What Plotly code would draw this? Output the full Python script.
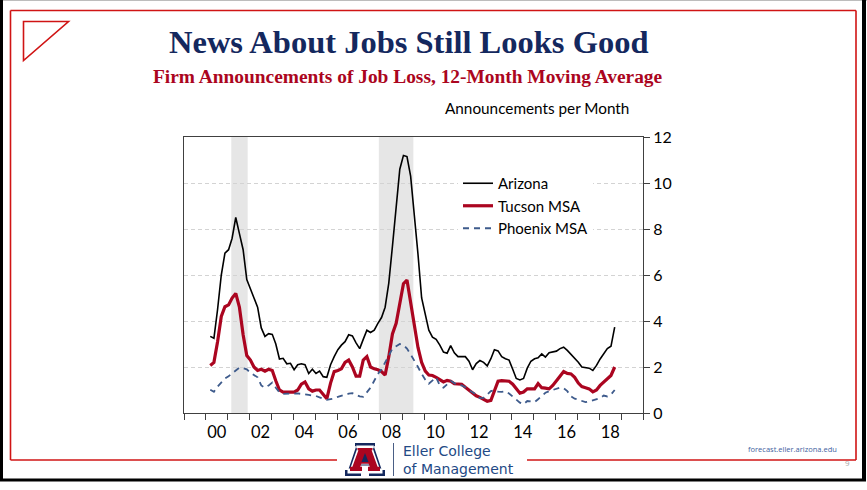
import pandas as pd
import plotly.graph_objects as go

# Bi-monthly observations, mid-month, March 2000 through September 2018
dates = pd.date_range("2000-03-01", periods=112, freq="2MS") + pd.Timedelta(days=14)

arizona = [
    3.33, 3.25, 4.5, 6.0, 6.95,
    7.1, 7.6, 8.5, 7.8, 7.1, 5.8,
    5.4, 5.04, 4.6, 3.7, 3.33, 3.45,
    3.42, 3.0, 2.35, 2.38, 2.14, 2.16,
    1.88, 2.1, 2.14, 2.1, 1.72, 1.9,
    1.72, 1.82, 1.58, 1.55, 2.1, 2.45,
    2.75, 2.95, 3.1, 3.4, 3.35, 3.05,
    2.8, 3.2, 3.6, 3.5, 3.6, 3.9,
    4.15, 4.6, 5.65, 7.25, 9.0, 10.6,
    11.2, 11.15, 10.3, 8.7, 6.9, 5.0,
    4.25, 3.6, 3.3, 3.2, 2.95, 2.65,
    2.6, 2.93, 2.62, 2.45, 2.45, 2.45,
    2.25, 1.88, 2.15, 2.28, 2.2, 2.05,
    2.36, 2.75, 2.7, 2.45, 2.36, 2.3,
    1.9, 1.5, 1.44, 1.5, 1.95, 2.25,
    2.36, 2.4, 2.57, 2.43, 2.62, 2.66,
    2.69, 2.8, 2.86, 2.72, 2.55, 2.35,
    2.21, 2.0, 1.99, 1.95, 1.85, 2.07,
    2.35, 2.6, 2.8, 2.9, 3.73,
]

tucson = [
    2.07, 2.2, 3.1, 4.2, 4.62,
    4.7, 5.0, 5.2, 4.6, 3.4, 2.5,
    2.3, 2.0, 1.85, 1.9, 1.82, 1.9,
    1.85, 1.4, 1.0, 0.91, 0.91, 0.91,
    0.91, 1.0, 1.25, 1.35, 1.05, 0.95,
    1.0, 1.0, 0.8, 0.62, 1.3, 1.8,
    1.85, 1.92, 2.2, 2.3, 2.0, 1.6,
    1.6, 2.3, 2.45, 2.0, 1.92, 1.88,
    1.8, 1.65, 2.45, 3.44, 3.9, 4.85,
    5.62, 5.78, 4.8, 3.7, 2.85, 2.2,
    1.82, 1.65, 1.63, 1.55, 1.45, 1.35,
    1.42, 1.38, 1.27, 1.27, 1.25, 1.12,
    1.0, 0.85, 0.75, 0.68, 0.58, 0.51,
    0.55, 0.95, 1.38, 1.41, 1.41, 1.38,
    1.25, 1.05, 0.86, 0.91, 1.05, 1.05,
    1.05, 1.28, 1.1, 1.08, 1.05, 1.2,
    1.38, 1.6, 1.8, 1.72, 1.7, 1.55,
    1.3, 1.15, 1.1, 1.05, 0.92, 1.0,
    1.2, 1.35, 1.5, 1.63, 2.0,
]

phoenix = [
    1.01, 0.92, 1.15, 1.35, 1.5,
    1.6, 1.73, 1.85, 1.97, 1.95, 1.9,
    1.75, 1.65, 1.55, 1.2, 1.1, 1.2,
    1.32, 1.1, 0.9, 0.83, 0.84, 0.86,
    0.86, 0.85, 0.83, 0.82, 0.79, 0.76,
    0.74, 0.68, 0.63, 0.57, 0.6, 0.63,
    0.7, 0.75, 0.8, 0.84, 0.86, 0.8,
    0.72, 0.7, 0.9, 1.1, 1.4, 1.7,
    1.9, 2.2, 2.55, 2.8, 2.9, 3.0,
    2.95, 2.8, 2.55, 2.3, 2.0, 1.7,
    1.45, 1.27, 1.42, 1.55, 1.2, 1.1,
    1.25, 1.4, 1.3, 1.22, 1.2, 1.12,
    1.0, 0.9, 0.8, 0.65, 0.66, 0.8,
    0.95, 1.0, 0.93, 0.92, 0.95, 0.85,
    0.72, 0.6, 0.45, 0.38, 0.52, 0.5,
    0.47, 0.6, 0.72, 0.88, 0.95, 1.0,
    1.02, 1.1, 1.08, 0.95, 0.72, 0.62,
    0.58, 0.52, 0.47, 0.5, 0.54, 0.6,
    0.65, 0.76, 0.72, 0.8, 1.0,
]

recessions = [("2001-03-01", "2001-11-30"), ("2007-12-01", "2009-06-30")]

year_labels = ["00", "02", "04", "06", "08", "10", "12", "14", "16", "18"]
label_years = [2000, 2002, 2004, 2006, 2008, 2010, 2012, 2014, 2016, 2018]
y_ticks = [0, 2, 4, 6, 8, 10, 12]

W, H = 867, 490
ML, MR, MT, MB = 184, 224, 137, 77
PW, PH = W - ML - MR, H - MT - MB

NAVY = "#14285E"
UA_RED = "#AB0520"
SLIDE_RED = "#D01414"
TEXT_FONT = "Lato"


def px(x):
    return (x - ML) / PW


def py(y):
    return (H - MB - y) / PH


fig = go.Figure()

fig.add_trace(go.Scatter(x=dates, y=arizona, name="Arizona", mode="lines",
                         line=dict(color="#000000", width=1.6)))
fig.add_trace(go.Scatter(x=dates, y=tucson, name="Tucson MSA", mode="lines",
                         line=dict(color=UA_RED, width=3.2)))
fig.add_trace(go.Scatter(x=dates, y=phoenix, name="Phoenix MSA", mode="lines",
                         line=dict(color="#3E5B8C", width=1.8, dash="6px,5px")))

shapes = []
for start, end in recessions:
    shapes.append(dict(type="rect", xref="x", yref="paper", x0=start, x1=end,
                       y0=0, y1=1, fillcolor="#E6E6E6", line=dict(width=0),
                       layer="below"))


def line_px(x0, y0, x1, y1, color, width):
    shapes.append(dict(type="line", xref="paper", yref="paper",
                       x0=px(x0), y0=py(y0), x1=px(x1), y1=py(y1),
                       line=dict(color=color, width=width), layer="above"))


def path_px(points, fill, color=None, width=0):
    d = "M " + " L ".join(f"{px(x):.5f},{py(y):.5f}" for x, y in points) + " Z"
    shapes.append(dict(type="path", xref="paper", yref="paper", path=d,
                       fillcolor=fill, line=dict(color=color or fill, width=width),
                       layer="above"))


# slide frame
line_px(0, 0.5, 867, 0.5, "#BDBDBD", 1)
line_px(1.5, 0, 1.5, 481, "#000000", 3)
line_px(864, 0, 864, 481, "#000000", 4)
line_px(0, 480, 866, 480, "#000000", 3)

# red inner frame, bottom edge broken by the logo block
line_px(10.5, 10.5, 856, 10.5, SLIDE_RED, 1.6)
line_px(10.5, 10.5, 10.5, 460, SLIDE_RED, 1.6)
line_px(856, 10.5, 856, 460, SLIDE_RED, 1.6)
line_px(10.5, 460, 337, 460, SLIDE_RED, 1.6)
line_px(527, 460, 856, 460, SLIDE_RED, 1.6)

# corner triangle
path_px([(23.5, 21.5), (68.5, 21.5), (23.5, 60.5)], "rgba(255,255,255,0)",
        SLIDE_RED, 1.6)

# block "A" logo
A_UNIT = [(0.25, 0), (0.75, 0), (0.75, 0.1), (0.72, 0.1), (0.92, 0.82),
          (1.0, 0.82), (1.0, 1.0), (0.6, 1.0), (0.6, 0.82), (0.66, 0.82),
          (0.62, 0.68), (0.38, 0.68), (0.34, 0.82), (0.4, 0.82), (0.4, 1.0),
          (0.0, 1.0), (0.0, 0.82), (0.08, 0.82), (0.28, 0.1), (0.25, 0.1)]


def block_a(x0, y0, x1, y1, fill):
    path_px([(x0 + u * (x1 - x0), y0 + v * (y1 - y0)) for u, v in A_UNIT], fill)


block_a(345, 443, 385, 476, NAVY)
block_a(347.5, 445.5, 382.5, 473.5, "#FFFFFF")
block_a(350, 448, 380, 471, UA_RED)
path_px([(361.5, 462), (368.5, 462), (365, 453)], NAVY)
line_px(393.5, 443, 393.5, 476, "#4A5E85", 1)

annotations = [
    dict(text="<b>News About Jobs Still Looks Good</b>", x=px(409), y=py(42),
         font=dict(family="Liberation Serif", size=32.5, color=NAVY)),
    dict(text="<b>Firm Announcements of Job Loss, 12-Month Moving Average</b>",
         x=px(407.5), y=py(77),
         font=dict(family="Liberation Serif", size=19.4, color=UA_RED)),
    dict(text="Announcements per Month", x=px(536.5), y=py(108),
         font=dict(family=TEXT_FONT, size=15.3, color="#000000")),
    dict(text="Eller College<br>of Management", x=px(401), y=py(460),
         xanchor="left", align="left",
         font=dict(family="DejaVu Sans", size=14, color="#234985")),
    dict(text="forecast.eller.arizona.edu", x=px(839), y=py(448.5), xanchor="right",
         font=dict(family="Open Sans", size=7.5, color="#3F62A0")),
    dict(text="9", x=px(847), y=py(462.5),
         font=dict(family="Open Sans", size=8, color="#A6A6A6")),
]
for a in annotations:
    a.update(xref="paper", yref="paper", showarrow=False)
    a.setdefault("xanchor", "center")
    a.setdefault("yanchor", "middle")

fig.update_layout(
    width=W, height=H,
    margin=dict(l=ML, r=MR, t=MT, b=MB, pad=0),
    paper_bgcolor="#FFFFFF", plot_bgcolor="#FFFFFF",
    font=dict(family=TEXT_FONT, size=16, color="#000000"),
    showlegend=True,
    legend=dict(x=px(458), y=py(167), xanchor="left", yanchor="top",
                bgcolor="#FFFFFF", borderwidth=0,
                font=dict(family=TEXT_FONT, size=15, color="#000000"),
                tracegroupgap=0),
    shapes=shapes,
    annotations=annotations,
    xaxis=dict(
        type="date", range=["1999-01-01", "2020-01-01"],
        tickmode="array",
        tickvals=[f"{y}-07-02" for y in label_years],
        ticktext=year_labels, ticks="", showgrid=False,
        showline=True, linecolor="#404040", linewidth=1, mirror=True,
        minor=dict(tickmode="linear", tick0="1999-01-01", dtick="M12",
                   ticks="outside", ticklen=6, tickcolor="#404040",
                   showgrid=False),
        ticklabelstandoff=4,
        tickfont=dict(family=TEXT_FONT, size=16.5, color="#000000"),
        automargin=False, fixedrange=True, zeroline=False,
    ),
    yaxis=dict(
        side="right", range=[0, 12], tickvals=y_ticks,
        ticks="outside", ticklen=6, tickcolor="#404040",
        showline=True, linecolor="#404040", linewidth=1, mirror=True,
        showgrid=True, gridcolor="#D3D3D3", griddash="4px,3px", gridwidth=1,
        zeroline=False,
        tickfont=dict(family=TEXT_FONT, size=16, color="#000000"),
        automargin=False, fixedrange=True,
    ),
)

fig.write_html("out.html")
